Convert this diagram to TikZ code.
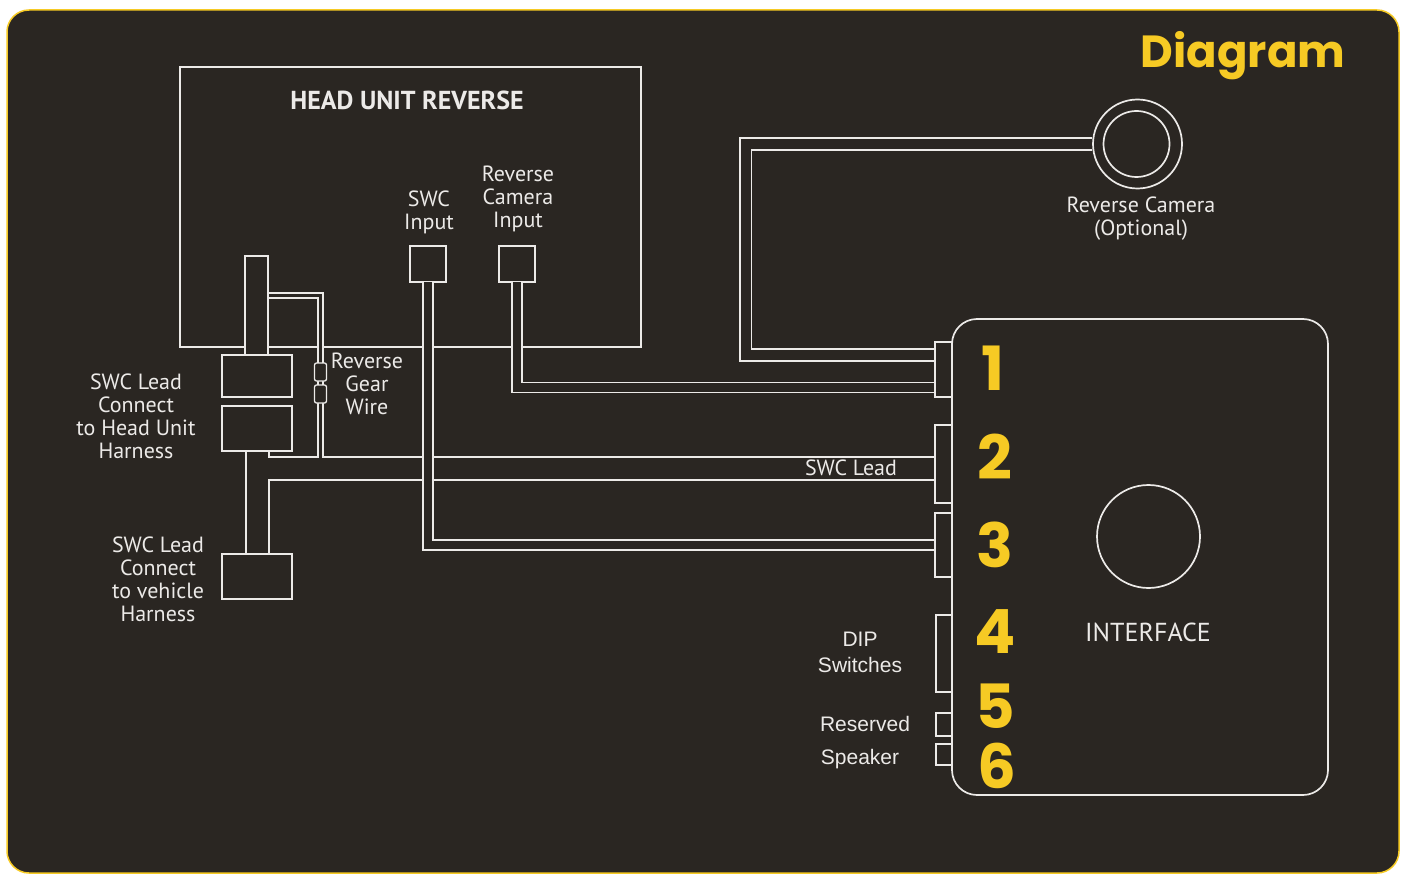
\documentclass[tikz,border=0pt]{standalone}
\usepackage{fontspec}
\setmainfont{PT Sans}
\newfontfamily\arialf{Liberation Sans}
\newfontfamily\geof{Poppins}
\usetikzlibrary{calc}
\definecolor{bg}{RGB}{42,38,34}
\definecolor{wire}{RGB}{236,234,232}
\definecolor{ylw}{RGB}{246,202,36}
\begin{document}
\begin{tikzpicture}[x=1pt,y=-1pt,
  wl/.style={draw=wire,line width=1.7pt},
  box/.style={draw=wire,line width=1.7pt,fill=bg,inner sep=0pt,outer sep=0pt,anchor=north west},
  cable/.style={draw=wire,line width=1.7pt,double=bg,double distance=8.5pt},
  lbl/.style={text=wire,font=\fontsize{22}{23}\selectfont,align=center,inner sep=0pt},
  dlbl/.style={text=wire,font=\arialf\fontsize{21}{26}\selectfont,align=center,inner sep=0pt},
  num/.style={text=ylw,font=\geof\bfseries\fontsize{61}{61}\selectfont,inner sep=0pt},
]
\useasboundingbox (0,0) rectangle (1404,877);
\fill[white] (0,0) rectangle (1404,877);
\draw[fill=bg,draw=ylw,line width=1.5pt,rounded corners=22pt] (7,10) rectangle (1399,873);

% head unit
\node[box,fill=none,minimum width=461pt,minimum height=280pt] (hu) at (180,67) {};
\node[text=wire,font=\bfseries\fontsize{26}{26}\selectfont,inner sep=0pt] (title) at (407,100) {HEAD UNIT REVERSE};

% interface connectors (positions)
\node[box,minimum width=17pt,minimum height=55pt] (c1) at (935,342) {};
\node[box,minimum width=17pt,minimum height=78pt] (c2) at (935,425) {};
\node[box,minimum width=17pt,minimum height=64pt] (c3) at (935,513) {};
\node[box,minimum width=16pt,minimum height=77pt] (c4) at (936,615) {};
\node[box,minimum width=16pt,minimum height=23pt] (c5) at (936,713) {};
\node[box,minimum width=16pt,minimum height=21pt] (c6) at (936,744) {};

\coordinate (plugNW) at (245,256);

% mask head unit line under the gear wire
\fill[bg] (319.2,299) rectangle (321.8,455);

% gear wire (inner loop and outer continuing to connector 2)
\draw[wl] (269,451) -- (269,457) -- (318,457) -- (318,298) -- (268,298);
\draw[wl] (268,293) -- (323,293) -- (323,457) -- ($(c2.west)+(0,-7)$) coordinate (c2a);
\draw[wl] (246,451) -- (246,554);
\draw[wl] (269,554) -- (269,480) -- ($(c2.west)+(0,16)$) coordinate (c2b);

% input boxes
\node[box,minimum width=36pt,minimum height=36pt] (swcin) at (410,246) {};
\node[box,minimum width=36pt,minimum height=36pt] (rcin) at (499,246) {};

% camera
\node[draw=wire,line width=1.7pt,circle,fill=bg,minimum size=89pt,inner sep=0pt] (camo) at (1137.5,144) {};
\node[draw=wire,line width=1.7pt,circle,minimum size=66pt,inner sep=0pt] (cami) at (1136.5,144) {};
\coordinate (camX) at (745.5,0);

% cables
\draw[cable] (swcin.south) |- (c3.west);
\draw[cable] (rcin.south) |- ($(c1.west)+(0,18)$);
\draw[cable,double distance=10pt] (camo.west) -- (camo.west -| camX) |- ($(c1.west)+(0,-14.5)$);

% harness boxes on top
\node[box,minimum width=23pt,minimum height=99pt] (plug) at (plugNW) {};
\node[box,minimum width=70pt,minimum height=42pt] (hb1) at (222,355) {};
\node[box,minimum width=70pt,minimum height=45pt] (hb2) at (222,406) {};
\node[box,minimum width=70pt,minimum height=45pt] (vb) at (222,554) {};
\node[box,rounded corners=2pt,line width=1.3pt,minimum width=12pt,minimum height=18pt] (f1) at (314.5,363) {};
\node[box,rounded corners=2pt,line width=1.3pt,minimum width=12pt,minimum height=18pt] (f2) at (314.5,385) {};

% connectors redrawn on top
\foreach \c/\x/\y/\w/\h in {c1/935/342/17/55,c2/935/425/17/78,c3/935/513/17/64,c4/936/615/16/77,c5/936/713/16/23,c6/936/744/16/21}
  \node[box,minimum width=\w pt,minimum height=\h pt] at (\x,\y) {};

% interface
\node[box,fill=none,rounded corners=25pt,minimum width=376pt,minimum height=476pt] (intf) at (952,319) {};
\node[draw=wire,line width=1.7pt,circle,minimum size=103pt,inner sep=0pt] (knob) at (1148.5,536.5) {};

% labels
\node[lbl] (lswc) at (429,212) {SWC\\Input};
\node[lbl] (lrc) at (518,199) {Reverse\\Camera\\Input};
\node[lbl] (lgear) at (367,384) {Reverse\\Gear\\Wire};
\node[lbl] (lhu) at (136,416) {SWC Lead\\Connect\\to Head Unit\\Harness};
\node[lbl] (lveh) at (158,579) {SWC Lead\\Connect\\to vehicle\\Harness};
\node[lbl] (llead) at (851,468) {SWC Lead};
\node[lbl] (lcam) at (1141,219) {Reverse Camera\\(Optional)};
\node[lbl,font=\fontsize{26}{26}\selectfont] (lintf) at (1148,632) {INTERFACE};
\node[dlbl] (ldip) at (860,652) {DIP\\Switches};
\node[dlbl] (lres) at (865,724) {Reserved};
\node[dlbl] (lspk) at (860,759) {Speaker};

% numbers
\node[num] (n1) at (993,368) {1};
\node[num] (n2) at (995,457) {2};
\node[num] (n3) at (995,545) {3};
\node[num] (n4) at (995,632) {4};
\node[num] (n5) at (995,706) {5};
\node[num] (n6) at (997,766) {6};

\node[text=ylw,font=\geof\bfseries\fontsize{45}{45}\selectfont,inner sep=0pt] (dtitle) at (1243,56) {Diagram};
\end{tikzpicture}
\end{document}
